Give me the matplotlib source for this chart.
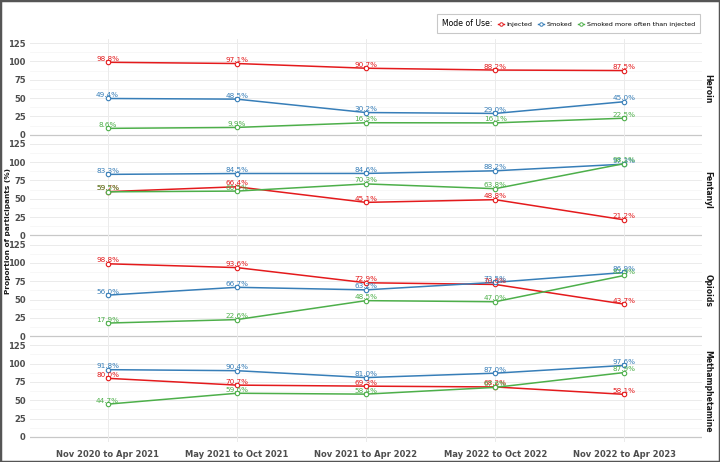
import matplotlib
matplotlib.use("Agg")
import matplotlib.pyplot as plt
from matplotlib.lines import Line2D
from matplotlib.patches import Rectangle
import numpy as np

periods = ["Nov 2020 to Apr 2021", "May 2021 to Oct 2021", "Nov 2021 to Apr 2022",
           "May 2022 to Oct 2022", "Nov 2022 to Apr 2023"]
drugs = ["Heroin", "Fentanyl", "Opioids", "Methamphetamine"]
modes = ["Injected", "Smoked", "Smoked more often than injected"]
colors = {"Injected": "#e41a1c", "Smoked": "#377eb8",
          "Smoked more often than injected": "#4daf4a"}

heroin_injected = [98.8, 97.1, 90.7, 88.2, 87.5]
heroin_smoked = [49.4, 48.5, 30.2, 29.0, 45.0]
heroin_smo = [8.6, 9.9, 16.3, 16.1, 22.5]

fentanyl_injected = [59.7, 66.4, 45.1, 48.8, 21.2]
fentanyl_smoked = [83.3, 84.5, 84.6, 88.2, 97.3]
fentanyl_smo = [59.5, 60.5, 70.3, 63.8, 98.1]

opioids_injected = [98.8, 93.6, 72.9, 70.6, 43.7]
opioids_smoked = [56.0, 66.7, 63.2, 73.5, 86.9]
opioids_smo = [17.9, 22.6, 48.5, 47.0, 82.9]

meth_injected = [80.0, 70.7, 69.3, 68.2, 58.1]
meth_smoked = [91.8, 90.4, 81.0, 87.0, 97.6]
meth_smo = [44.7, 59.6, 58.4, 67.6, 87.9]

data = {
    "Heroin": [heroin_injected, heroin_smoked, heroin_smo],
    "Fentanyl": [fentanyl_injected, fentanyl_smoked, fentanyl_smo],
    "Opioids": [opioids_injected, opioids_smoked, opioids_smo],
    "Methamphetamine": [meth_injected, meth_smoked, meth_smo],
}

fig = plt.figure(figsize=(7.2, 4.62), dpi=100)
gs = fig.add_gridspec(4, 1, left=30/720, right=702/720,
                      top=1-38.5/462, bottom=1-441.5/462, hspace=0.0)
x = np.arange(len(periods))
tick_font = dict(fontsize=6, fontweight="bold", color="#4d4d4d")

for i, drug in enumerate(drugs):
    ax = fig.add_subplot(gs[i])
    ax.set_xlim(-0.6, len(periods) - 0.4)
    ax.set_ylim(-6.25, 131.25)
    for s in ax.spines.values():
        s.set_visible(False)
    for yv in [12.5, 37.5, 62.5, 87.5, 112.5]:
        ax.axhline(yv, color="#f4f4f4", lw=0.5, zorder=0)
    for yv in [25, 50, 75, 100, 125]:
        ax.axhline(yv, color="#ebebeb", lw=0.7, zorder=0)
    ax.axhline(0, color="#c8c8c8", lw=0.9, zorder=0)
    for xv in x:
        ax.axvline(xv, color="#ebebeb", lw=0.7, zorder=0)
    for mode, vals in zip(modes, data[drug]):
        c = colors[mode]
        ax.plot(x, vals, color=c, lw=1.1, marker="o", ms=3.2,
                mfc="white", mec=c, mew=0.8, zorder=3)
        for xi, v in zip(x, vals):
            ax.annotate(f"{v:.1f}%", (xi, v), xytext=(0, 2.5),
                        textcoords="offset points", ha="center", va="center",
                        fontsize=5.2, color=c, zorder=4)
    ax.set_yticks([0, 25, 50, 75, 100, 125])
    ax.set_yticklabels([str(t) for t in [0, 25, 50, 75, 100, 125]], **tick_font)
    ax.tick_params(axis="both", length=0, pad=3)
    ax.set_xticks(x)
    if i == len(drugs) - 1:
        ax.set_xticklabels(periods, **tick_font)
        ax.tick_params(axis="x", pad=6)
    else:
        ax.set_xticklabels([])
    ax.text(1.0 + 6/672, 0.5, drug, transform=ax.transAxes, rotation=-90,
            ha="center", va="center", fontsize=5.6, fontweight="bold", color="#1a1a1a")
    if i == 0:
        handles = [Line2D([], [], color=colors[m], lw=1, marker="o", ms=2.5,
                          mfc="white", mec=colors[m], mew=0.7) for m in modes]
        leg = ax.legend(handles, modes, title="Mode of Use:", ncol=3,
                        loc="lower right", bbox_to_anchor=(1.0, 1.035),
                        fontsize=4.6, title_fontsize=5.6, frameon=True,
                        handlelength=1.0, handletextpad=0.35, columnspacing=0.6,
                        borderpad=0.8, borderaxespad=0.3, fancybox=False,
                        edgecolor="#bbbbbb")
        leg.get_frame().set_linewidth(0.8)
        try:
            c0 = leg.get_children()[0]
            title = c0.get_children()[0]
            hpack = c0.get_children()[1]
            c0._children.remove(title)
            hpack._children.insert(0, title)
            hpack.sep = 4
        except Exception:
            pass

fig.text(8/720, 0.5, "Proportion of participants (%)", rotation=90,
         ha="center", va="center", fontsize=5.3, fontweight="bold", color="#1a1a1a")

fig.patches.append(Rectangle((0, 0), 1, 1, transform=fig.transFigure,
                             fill=False, edgecolor="#555555", lw=2.5))

fig.savefig("out.png", dpi=100)
